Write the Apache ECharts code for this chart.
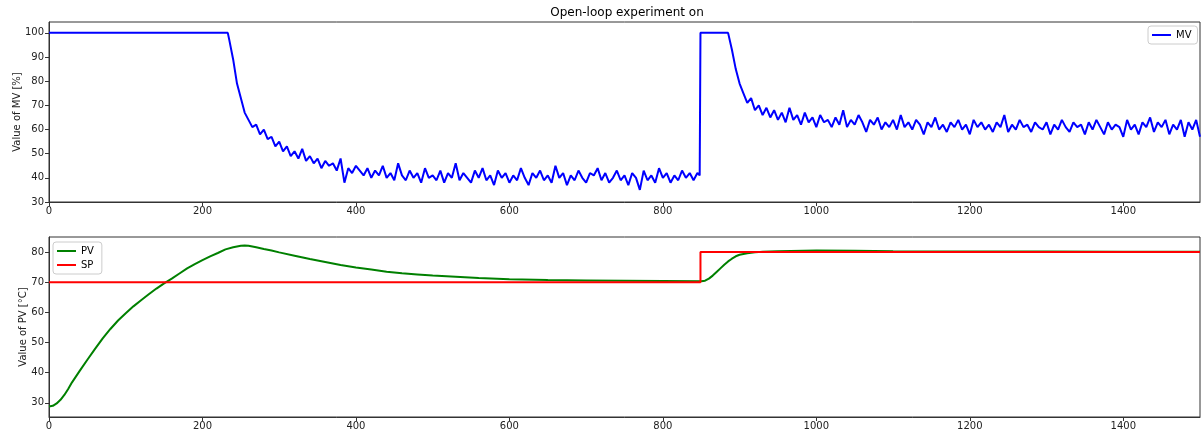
<!DOCTYPE html>
<html>
<head>
<meta charset="utf-8">
<script src="https://cdn.jsdelivr.net/npm/echarts@6/dist/echarts.min.js"></script>
<style>
html,body{margin:0;padding:0;background:#fff;}
#chart{width:1203px;height:432px;}
</style>
</head>
<body>
<div id="chart"></div>
<script>
// ---- Data ----
const titleText = 'Open-loop experiment on';
const xTicks = [0, 200, 400, 600, 800, 1000, 1200, 1400];
const mvTicks = [30, 40, 50, 60, 70, 80, 90, 100];
const pvTicks = [30, 40, 50, 60, 70, 80];

// MV: saturated at 100 at start
const mvHeadT = [0, 233];
const mvHeadV = [100, 100];
// MV after first drop, sampled every 5 s from t=235 to t=845
const mvLowStart = 235;
const mvLowV = [
  97,89,79,73,67,64,61,62,58,60,
  56,57,53,55,51,53,49,51,48,52,
  47,49,46,48,44,47,45,46,43,48,
  38,44,42,45,43,41,44,40,43,41,
  45,40,42,39,46,
  41,39,43,40,42,38,44,40,41,39,
  43,38,42,40,46,39,42,40,38,43,
  40,44,39,41,37,43,40,42,38,41,
  39,44,40,37,42,40,43,39,41,38,
  45,40,42,37,41,39,43,40,38,42,
  41,44,39,42,38,40,43,39,41,37,
  42,40,35,43,39,41,38,44,40,42,
  38,41,39,43,40,42,39,42
];
// MV jump back to saturation at setpoint change
const mvStepT = [848, 849, 885];
const mvStepV = [41, 100, 100];
// MV after second drop, sampled every 5 s from t=890 to t=1500
const mvHighStart = 890;
const mvHighV = [
  93,85,79,75,71,73,68,70,66,69,
  65,68,64,67,63,69,64,66,62,67,
  63,65,61,66,63,64,61,65,62,68,
  61,64,62,66,63,59,64,62,65,60,
  63,61,64,60,66,61,63,60,64,62,
  58,63,61,65,60,62,59,63,61,64,
  60,62,58,64,61,63,60,62,59,63,
  61,66,59,62,60,64,61,62,59,63,
  61,60,63,58,62,60,64,61,59,63,
  61,62,58,63,60,64,61,58,63,60,
  62,61,57,64,60,62,58,63,61,65,
  59,63,61,64,58,62,60,64,57,63,
  60,64,57
];
const mvSampleStep = 5;

const pvT = [0,5,10,15,20,25,30,40,50,60,70,80,90,100,110,120,130,140,150,160,170,180,190,200,210,220,230,240,250,255,260,270,280,290,300,320,340,360,380,400,420,440,460,480,500,530,560,600,650,700,750,800,850,855,860,865,870,875,880,885,890,895,900,910,920,930,950,1000,1050,1100,1200,1300,1400,1500];
const pvV = [28.8,29.0,29.8,31.0,32.6,34.6,36.8,40.6,44.3,47.9,51.4,54.5,57.3,59.7,62.0,64.0,66.0,67.9,69.6,71.2,72.9,74.6,76.0,77.3,78.6,79.7,80.9,81.6,82.1,82.2,82.1,81.6,81.0,80.5,79.9,78.8,77.7,76.7,75.7,74.9,74.2,73.5,73.0,72.6,72.2,71.8,71.4,71.0,70.7,70.6,70.5,70.4,70.3,70.5,71.2,72.2,73.4,74.6,75.8,76.9,77.8,78.6,79.1,79.6,79.9,80.1,80.3,80.5,80.4,80.3,80.2,80.2,80.1,80.1];

const spT = [0, 849, 849, 1500];
const spV = [70, 70, 80, 80];

// ---- Build series data ----
const mvData = [];
mvHeadT.forEach((t, i) => mvData.push([t, mvHeadV[i]]));
mvLowV.forEach((v, i) => mvData.push([mvLowStart + i * mvSampleStep, v]));
mvStepT.forEach((t, i) => mvData.push([t, mvStepV[i]]));
mvHighV.forEach((v, i) => mvData.push([mvHighStart + i * mvSampleStep, v]));
const pvData = pvT.map((t, i) => [t, pvV[i]]);
const spData = spT.map((t, i) => [t, spV[i]]);

const FONT = 'DejaVu Sans';
const axisColor = '#333';
const plain = v => String(v);

function xAxisCfg(gridIndex) {
  return {
    type: 'value', gridIndex, min: 0, max: 1500,
    axisLine: {show: true, onZero: false, lineStyle: {color: axisColor, width: 1}},
    axisTick: {show: true, length: 4, inside: false, customValues: xTicks, lineStyle: {color: axisColor}},
    axisLabel: {show: true, customValues: xTicks, formatter: plain, color: '#222', fontFamily: FONT, fontSize: 10, margin: 4},
    splitLine: {show: false}
  };
}
function yAxisCfg(gridIndex, min, max, ticks, name, gap) {
  return {
    type: 'value', gridIndex, min, max,
    name, nameLocation: 'middle', nameGap: gap, nameMoveOverlap: false,
    nameTextStyle: {color: '#222', fontFamily: FONT, fontSize: 10},
    axisLine: {show: true, onZero: false, lineStyle: {color: axisColor, width: 1}},
    axisTick: {show: true, length: 4, inside: false, customValues: ticks, lineStyle: {color: axisColor}},
    axisLabel: {show: true, customValues: ticks, formatter: plain, color: '#222', fontFamily: FONT, fontSize: 10, margin: 5},
    splitLine: {show: false}
  };
}

const option = {
  animation: false,
  backgroundColor: '#fff',
  title: {
    text: titleText, left: 622, top: 2, textAlign: 'center',
    textStyle: {fontFamily: FONT, fontSize: 12, fontWeight: 'normal', color: '#000'}
  },
  legend: [
    {
      data: ['MV'], orient: 'vertical', left: 1148, top: 26,
      backgroundColor: '#fff', borderColor: '#ccc', borderWidth: 1, borderRadius: 3,
      padding: [3, 6, 3, 4], itemWidth: 19, itemHeight: 2, icon: 'rect', itemGap: 2,
      textStyle: {fontFamily: FONT, fontSize: 10, color: '#000', lineHeight: 12}
    },
    {
      data: ['PV', 'SP'], orient: 'vertical', left: 53, top: 242,
      backgroundColor: '#fff', borderColor: '#ccc', borderWidth: 1, borderRadius: 3,
      padding: [3, 8, 3, 4], itemWidth: 19, itemHeight: 2, icon: 'rect', itemGap: 2,
      textStyle: {fontFamily: FONT, fontSize: 10, color: '#000', lineHeight: 12}
    }
  ],
  grid: [
    {left: 49, right: 3, top: 22, height: 180, containLabel: false, outerBoundsMode: 'none', show: true, borderColor: axisColor, borderWidth: 1, backgroundColor: 'transparent'},
    {left: 49, right: 3, top: 237, height: 180, containLabel: false, outerBoundsMode: 'none', show: true, borderColor: axisColor, borderWidth: 1, backgroundColor: 'transparent'}
  ],
  xAxis: [xAxisCfg(0), xAxisCfg(1)],
  yAxis: [
    yAxisCfg(0, 30, 104.5, mvTicks, 'Value of MV [%]', 27),
    yAxisCfg(1, 25.3, 85, pvTicks, 'Value of PV [°C]', 21)
  ],
  series: [
    {name: 'MV', type: 'line', xAxisIndex: 0, yAxisIndex: 0, data: mvData, showSymbol: false,
     lineStyle: {color: '#0000ff', width: 2}, itemStyle: {color: '#0000ff'}},
    {name: 'PV', type: 'line', xAxisIndex: 1, yAxisIndex: 1, data: pvData, showSymbol: false, smooth: false,
     lineStyle: {color: '#008000', width: 2}, itemStyle: {color: '#008000'}},
    {name: 'SP', type: 'line', xAxisIndex: 1, yAxisIndex: 1, data: spData, showSymbol: false,
     lineStyle: {color: '#ff0000', width: 2}, itemStyle: {color: '#ff0000'}}
  ]
};

const chart = echarts.init(document.getElementById('chart'), null, {renderer: 'canvas'});
chart.setOption(option);
</script>
</body>
</html>
